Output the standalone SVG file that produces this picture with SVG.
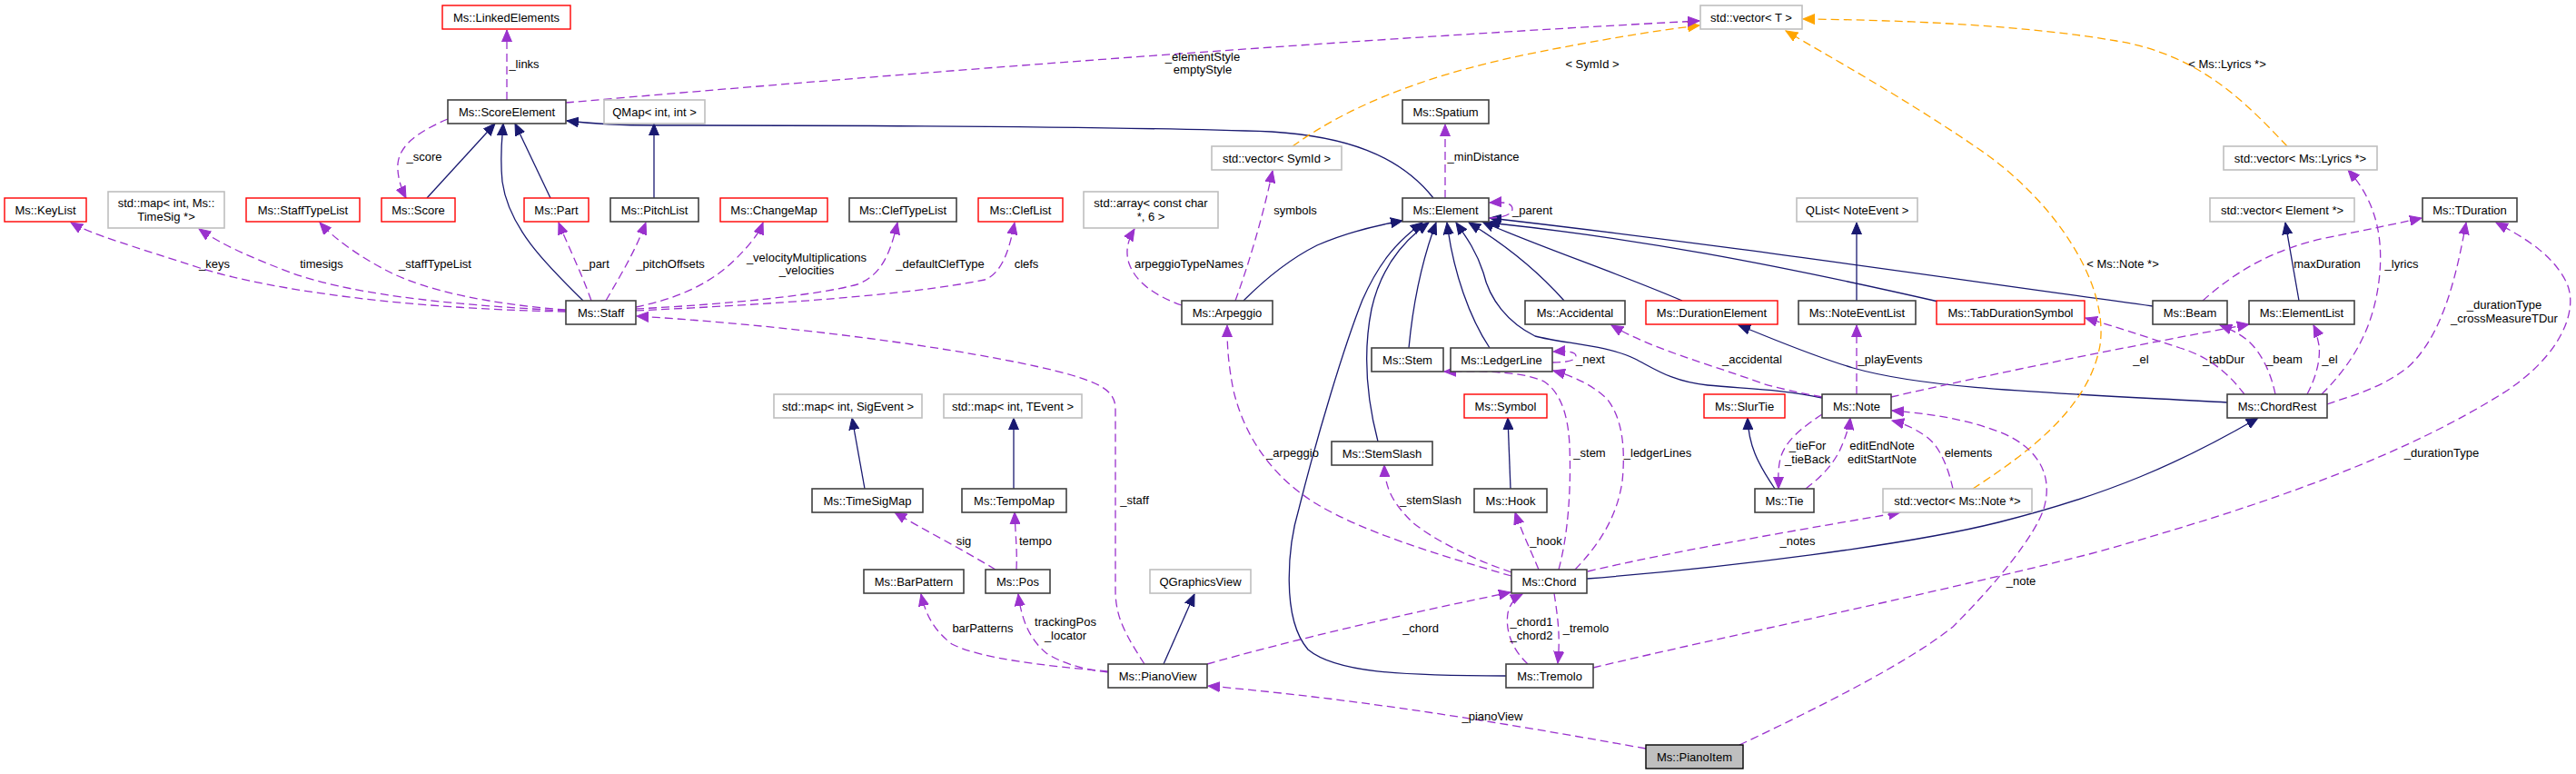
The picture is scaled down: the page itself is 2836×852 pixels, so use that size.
<svg xmlns="http://www.w3.org/2000/svg" width="2836" height="852" viewBox="0 0 2836 852">
<style>
text{font-family:"Liberation Sans",Arial,sans-serif;font-size:13px;fill:#000}
.nt{text-anchor:middle}
.el{text-anchor:middle}
rect.k{fill:#fff;stroke:#404040;stroke-width:1.6}
rect.r{fill:#fff;stroke:#ff0000;stroke-width:1.4}
rect.g{fill:#fff;stroke:#bfbfbf;stroke-width:1.6}
rect.h{fill:#bfbfbf;stroke:#000;stroke-width:1.4}
path.i{fill:none;stroke:#191970;stroke-width:1.3;marker-end:url(#ab)}
path.u{fill:none;stroke:#9a32cd;stroke-width:1.3;stroke-dasharray:9,5;marker-end:url(#ap)}
path.t{fill:none;stroke:#ffa500;stroke-width:1.3;stroke-dasharray:9,5;marker-end:url(#ao)}
</style>
<defs>
<marker id="ab" markerUnits="userSpaceOnUse" markerWidth="14" markerHeight="12" refX="13" refY="6" orient="auto" viewBox="0 0 14 12"><path d="M0,0.5 L13,6 L0,11.5 z" fill="#191970" stroke="#191970" stroke-width="1"/></marker>
<marker id="ap" markerUnits="userSpaceOnUse" markerWidth="14" markerHeight="12" refX="13" refY="6" orient="auto" viewBox="0 0 14 12"><path d="M0,0.5 L13,6 L0,11.5 z" fill="#9a32cd" stroke="#9a32cd" stroke-width="1"/></marker>
<marker id="ao" markerUnits="userSpaceOnUse" markerWidth="14" markerHeight="12" refX="13" refY="6" orient="auto" viewBox="0 0 14 12"><path d="M0,0.5 L13,6 L0,11.5 z" fill="#ffa500" stroke="#ffa500" stroke-width="1"/></marker>
</defs>
<rect width="2836" height="852" fill="#fff"/>

<g id="connectors">
<!-- inheritance -->
<path class="i" d="M470,218 L545,136"/>
<path class="i" d="M642,331 C600,290 560,250 553,200 C550,170 553,150 554,136"/>
<path class="i" d="M606,218 L567,136"/>
<path class="i" d="M1578,218 C1540,170 1480,150 1400,145 C1200,138 800,138 720,138 C680,138 650,136 624,133"/>
<path class="i" d="M720,218 L720,136"/>
<path class="i" d="M1369,331 C1395,305 1420,285 1450,270 C1480,257 1510,249 1544,243"/>
<path class="i" d="M1658,744 C1540,744 1470,740 1440,715 C1410,680 1418,600 1430,560 C1450,480 1480,380 1500,330 C1520,285 1540,265 1566,245"/>
<path class="i" d="M1517,486 C1505,440 1500,390 1510,340 C1520,295 1545,265 1573,245"/>
<path class="i" d="M1551,383 C1556,330 1568,280 1581,245"/>
<path class="i" d="M1640,383 C1618,350 1600,300 1593,245"/>
<path class="i" d="M2006,438 C1960,428 1920,428 1880,424 C1840,420 1820,405 1800,395 C1770,380 1720,378 1690,370 C1660,355 1640,330 1633,300 C1625,275 1612,258 1603,245"/>
<path class="i" d="M1722,331 C1690,295 1650,265 1617,245"/>
<path class="i" d="M1852,331 C1780,300 1690,270 1632,244"/>
<path class="i" d="M2370,337 C2100,300 1900,270 1640,240"/>
<path class="i" d="M2134,332 C1950,290 1800,262 1638,245"/>
<path class="i" d="M1663,538 L1660,460"/>
<path class="i" d="M1954,538 C1935,510 1925,490 1924,460"/>
<path class="i" d="M2452,443 C2250,432 2120,428 2040,405 C1990,390 1950,372 1914,358"/>
<path class="i" d="M1747,637 C1900,625 2100,600 2200,575 C2320,545 2400,510 2486,460"/>
<path class="i" d="M2531,331 L2516,245"/>
<path class="i" d="M2044,331 L2044,245"/>
<path class="i" d="M952,538 L938,460"/>
<path class="i" d="M1116,538 L1116,460"/>
<path class="i" d="M1281,731 L1315,654"/>
<!-- template instances -->
<path class="t" d="M1423,161 C1480,120 1560,85 1680,60 C1760,44 1820,34 1871,28"/>
<path class="t" d="M2518,161 C2470,110 2420,60 2330,45 C2230,28 2100,22 1985,21"/>
<path class="t" d="M2172,538 C2230,500 2300,450 2312,380 C2322,310 2260,220 2180,165 C2100,110 2010,60 1966,34"/>
<!-- usage -->
<path class="u" d="M558,110 L558,33"/>
<path class="u" d="M493,131 C460,145 440,160 438,180 C437,195 442,208 447,218"/>
<path class="u" d="M623,113 C1000,80 1500,42 1871,23"/>
<path class="u" d="M623,343 C450,340 300,320 220,295 C150,272 100,258 78,245"/>
<path class="u" d="M623,342 C480,335 380,322 320,300 C280,285 245,270 219,252"/>
<path class="u" d="M623,341 C540,335 470,320 430,300 C400,285 370,265 352,245"/>
<path class="u" d="M651,331 C640,300 625,270 615,245"/>
<path class="u" d="M667,331 C685,300 700,275 711,245"/>
<path class="u" d="M700,338 C740,330 780,315 810,285 C825,270 835,258 840,245"/>
<path class="u" d="M700,340 C800,335 900,325 944,313 C970,303 980,280 988,245"/>
<path class="u" d="M700,342 C850,335 1000,325 1084,308 C1105,300 1112,270 1117,245"/>
<path class="u" d="M1260,731 C1240,700 1228,680 1228,650 L1228,450 C1228,430 1210,422 1180,413 C1100,390 900,360 701,348"/>
<path class="u" d="M1301,336 C1270,325 1250,310 1243,290 C1238,275 1243,262 1249,252"/>
<path class="u" d="M1360,331 C1375,290 1390,240 1401,188"/>
<path class="u" d="M1664,634 C1580,610 1500,585 1450,555 C1400,525 1370,480 1358,430 C1352,400 1351,380 1351,358"/>
<path class="u" d="M1591,218 L1591,137"/>
<path class="u" d="M1639,240 C1655,240 1665,236 1665,230 C1665,224 1658,222 1640,223"/>
<path class="u" d="M2006,437 C1980,432 1960,428 1940,422 C1880,400 1820,385 1774,358"/>
<path class="u" d="M2044,434 L2044,358"/>
<path class="u" d="M1709,399 C1728,399 1735,396 1735,392 C1735,388 1728,386 1710,387"/>
<path class="u" d="M1734,627 C1760,600 1780,570 1786,530 C1790,490 1785,460 1770,440 C1755,425 1735,415 1710,408"/>
<path class="u" d="M1716,627 C1726,590 1730,540 1728,490 C1726,450 1715,430 1700,420 C1680,410 1640,408 1590,409"/>
<path class="u" d="M1664,630 C1620,615 1580,595 1555,575 C1535,555 1525,540 1524,512"/>
<path class="u" d="M1694,627 C1685,605 1675,585 1668,564"/>
<path class="u" d="M1748,629 C1850,605 2000,580 2092,564"/>
<path class="u" d="M1329,731 C1420,705 1550,675 1663,652"/>
<path class="u" d="M1682,731 C1665,715 1657,695 1660,675 C1662,665 1668,658 1676,654"/>
<path class="u" d="M1711,653 C1715,680 1718,700 1715,730"/>
<path class="u" d="M1812,824 C1650,795 1500,770 1330,755"/>
<path class="u" d="M1915,820 C2000,780 2100,730 2150,690 C2200,640 2240,590 2250,560 C2262,520 2240,490 2200,475 C2160,460 2120,455 2083,452"/>
<path class="u" d="M2150,538 C2145,515 2135,490 2120,480 C2105,470 2095,466 2083,463"/>
<path class="u" d="M2006,456 C1985,470 1965,485 1960,505 C1957,518 1958,528 1958,538"/>
<path class="u" d="M1988,538 C2005,525 2020,510 2028,490 C2033,478 2036,468 2037,460"/>
<path class="u" d="M2082,437 C2200,410 2350,380 2476,357"/>
<path class="u" d="M2471,434 C2460,420 2440,395 2400,383 C2360,370 2330,360 2296,350"/>
<path class="u" d="M2505,434 C2500,410 2490,390 2478,378 C2468,368 2455,362 2444,358"/>
<path class="u" d="M2540,434 C2550,415 2555,395 2553,380 C2551,370 2549,362 2547,358"/>
<path class="u" d="M2556,434 C2590,400 2615,360 2620,300 C2624,250 2610,215 2585,187"/>
<path class="u" d="M2562,445 C2590,435 2620,428 2650,405 C2690,370 2705,300 2715,245"/>
<path class="u" d="M1754,735 C1900,700 2100,660 2300,610 C2500,555 2650,500 2760,430 C2820,390 2840,340 2825,310 C2810,280 2780,262 2748,245"/>
<path class="u" d="M2425,331 C2460,300 2500,275 2560,262 C2600,254 2630,248 2666,240"/>
<path class="u" d="M1220,739 C1150,733 1080,725 1048,709 C1030,695 1020,680 1014,654"/>
<path class="u" d="M1220,740 C1190,737 1165,728 1152,719 C1135,705 1125,685 1121,654"/>
<path class="u" d="M1096,627 C1060,605 1020,585 985,564"/>
<path class="u" d="M1119,627 C1120,605 1118,590 1117,564"/>
<!-- edge labels -->
<text class="el" x="577" y="75">_links</text>
<text class="el" x="1324" y="67">_elementStyle</text>
<text class="el" x="1324" y="81">emptyStyle</text>
<text class="el" x="1753" y="75">&lt; SymId &gt;</text>
<text class="el" x="2452" y="75">&lt; Ms::Lyrics *&gt;</text>
<text class="el" x="467" y="177">_score</text>
<text class="el" x="1633" y="177">_minDistance</text>
<text class="el" x="1426" y="236">symbols</text>
<text class="el" x="1687" y="236">_parent</text>
<text class="el" x="236" y="295">_keys</text>
<text class="el" x="354" y="295">timesigs</text>
<text class="el" x="479" y="295">_staffTypeList</text>
<text class="el" x="656" y="295">_part</text>
<text class="el" x="738" y="295">_pitchOffsets</text>
<text class="el" x="888" y="288">_velocityMultiplications</text>
<text class="el" x="888" y="302">_velocities</text>
<text class="el" x="1035" y="295">_defaultClefType</text>
<text class="el" x="1130" y="295">clefs</text>
<text class="el" x="1309" y="295">arpeggioTypeNames</text>
<text class="el" x="2337" y="295">&lt; Ms::Note *&gt;</text>
<text class="el" x="2562" y="295">maxDuration</text>
<text class="el" x="2644" y="295">_lyrics</text>
<text class="el" x="2757" y="340">_durationType</text>
<text class="el" x="2757" y="355">_crossMeasureTDur</text>
<text class="el" x="1751" y="400">_next</text>
<text class="el" x="1929" y="400">_accidental</text>
<text class="el" x="2081" y="400">_playEvents</text>
<text class="el" x="2357" y="400">_el</text>
<text class="el" x="2448" y="400">_tabDur</text>
<text class="el" x="2515" y="400">_beam</text>
<text class="el" x="2565" y="400">_el</text>
<text class="el" x="1423" y="503">_arpeggio</text>
<text class="el" x="1750" y="503">_stem</text>
<text class="el" x="1825" y="503">_ledgerLines</text>
<text class="el" x="1990" y="495">_tieFor</text>
<text class="el" x="1990" y="510">_tieBack</text>
<text class="el" x="2072" y="495">editEndNote</text>
<text class="el" x="2072" y="510">editStartNote</text>
<text class="el" x="2167" y="503">elements</text>
<text class="el" x="2688" y="503">_durationType</text>
<text class="el" x="1249" y="555">_staff</text>
<text class="el" x="1575" y="555">_stemSlash</text>
<text class="el" x="1061" y="600">sig</text>
<text class="el" x="1140" y="600">tempo</text>
<text class="el" x="1702" y="600">_hook</text>
<text class="el" x="1979" y="600">_notes</text>
<text class="el" x="2225" y="644">_note</text>
<text class="el" x="1082" y="696">barPatterns</text>
<text class="el" x="1173" y="689">trackingPos</text>
<text class="el" x="1173" y="704">_locator</text>
<text class="el" x="1564" y="696">_chord</text>
<text class="el" x="1686" y="689">_chord1</text>
<text class="el" x="1686" y="704">_chord2</text>
<text class="el" x="1746" y="696">_tremolo</text>
<text class="el" x="1643" y="793">_pianoView</text>
</g>

<g id="n-LinkedElements"><rect class="r" x="487" y="6" width="141" height="26"/><text class="nt" x="557.5" y="24">Ms::LinkedElements</text></g>
<g id="n-ScoreElement"><rect class="k" x="493" y="110" width="130" height="26"/><text class="nt" x="558" y="128">Ms::ScoreElement</text></g>
<g id="n-QMap"><rect class="g" x="665" y="110" width="111" height="26"/><text class="nt" x="720.5" y="128">QMap&lt; int, int &gt;</text></g>
<g id="n-vectorT"><rect class="g" x="1872" y="6" width="112" height="26"/><text class="nt" x="1928" y="24">std::vector&lt; T &gt;</text></g>
<g id="n-Spatium"><rect class="k" x="1544" y="110" width="95" height="26"/><text class="nt" x="1591.5" y="128">Ms::Spatium</text></g>
<g id="n-vectorSymId"><rect class="g" x="1334" y="161" width="143" height="26"/><text class="nt" x="1405.5" y="179">std::vector&lt; SymId &gt;</text></g>
<g id="n-vectorLyrics"><rect class="g" x="2448" y="161" width="169" height="26"/><text class="nt" x="2532.5" y="179">std::vector&lt; Ms::Lyrics *&gt;</text></g>
<g id="n-KeyList"><rect class="r" x="5" y="218" width="90" height="26"/><text class="nt" x="50" y="236">Ms::KeyList</text></g>
<g id="n-mapTimeSig"><rect class="g" x="119" y="211" width="128" height="40"/><text class="nt" x="183" y="228">std::map&lt; int, Ms::</text><text class="nt" x="183" y="243">TimeSig *&gt;</text></g>
<g id="n-StaffTypeList"><rect class="r" x="271" y="218" width="125" height="26"/><text class="nt" x="333.5" y="236">Ms::StaffTypeList</text></g>
<g id="n-Score"><rect class="r" x="420" y="218" width="81" height="26"/><text class="nt" x="460.5" y="236">Ms::Score</text></g>
<g id="n-Part"><rect class="r" x="577" y="218" width="71" height="26"/><text class="nt" x="612.5" y="236">Ms::Part</text></g>
<g id="n-PitchList"><rect class="k" x="672" y="218" width="97" height="26"/><text class="nt" x="720.5" y="236">Ms::PitchList</text></g>
<g id="n-ChangeMap"><rect class="r" x="793" y="218" width="118" height="26"/><text class="nt" x="852" y="236">Ms::ChangeMap</text></g>
<g id="n-ClefTypeList"><rect class="k" x="935" y="218" width="118" height="26"/><text class="nt" x="994" y="236">Ms::ClefTypeList</text></g>
<g id="n-ClefList"><rect class="r" x="1077" y="218" width="93" height="26"/><text class="nt" x="1123.5" y="236">Ms::ClefList</text></g>
<g id="n-array"><rect class="g" x="1193" y="211" width="148" height="40"/><text class="nt" x="1267" y="228">std::array&lt; const char</text><text class="nt" x="1267" y="243">*, 6 &gt;</text></g>
<g id="n-Element"><rect class="k" x="1544" y="218" width="95" height="26"/><text class="nt" x="1591.5" y="236">Ms::Element</text></g>
<g id="n-QList"><rect class="g" x="1978" y="218" width="133" height="26"/><text class="nt" x="2044.5" y="236">QList&lt; NoteEvent &gt;</text></g>
<g id="n-vectorElement"><rect class="g" x="2433" y="218" width="159" height="26"/><text class="nt" x="2512.5" y="236">std::vector&lt; Element *&gt;</text></g>
<g id="n-TDuration"><rect class="k" x="2667" y="218" width="104" height="26"/><text class="nt" x="2719" y="236">Ms::TDuration</text></g>
<g id="n-Staff"><rect class="k" x="623" y="331" width="77" height="26"/><text class="nt" x="661.5" y="349">Ms::Staff</text></g>
<g id="n-Arpeggio"><rect class="k" x="1301" y="331" width="100" height="26"/><text class="nt" x="1351" y="349">Ms::Arpeggio</text></g>
<g id="n-Accidental"><rect class="k" x="1679" y="331" width="110" height="26"/><text class="nt" x="1734" y="349">Ms::Accidental</text></g>
<g id="n-DurationElement"><rect class="r" x="1812" y="331" width="145" height="26"/><text class="nt" x="1884.5" y="349">Ms::DurationElement</text></g>
<g id="n-NoteEventList"><rect class="k" x="1980" y="331" width="129" height="26"/><text class="nt" x="2044.5" y="349">Ms::NoteEventList</text></g>
<g id="n-TabDurationSymbol"><rect class="r" x="2132" y="331" width="163" height="26"/><text class="nt" x="2213.5" y="349">Ms::TabDurationSymbol</text></g>
<g id="n-Beam"><rect class="k" x="2370" y="331" width="82" height="26"/><text class="nt" x="2411" y="349">Ms::Beam</text></g>
<g id="n-ElementList"><rect class="k" x="2476" y="331" width="116" height="26"/><text class="nt" x="2534" y="349">Ms::ElementList</text></g>
<g id="n-Stem"><rect class="k" x="1510" y="383" width="79" height="26"/><text class="nt" x="1549.5" y="401">Ms::Stem</text></g>
<g id="n-LedgerLine"><rect class="k" x="1597" y="383" width="112" height="26"/><text class="nt" x="1653" y="401">Ms::LedgerLine</text></g>
<g id="n-mapSigEvent"><rect class="g" x="852" y="434" width="163" height="26"/><text class="nt" x="933.5" y="452">std::map&lt; int, SigEvent &gt;</text></g>
<g id="n-mapTEvent"><rect class="g" x="1039" y="434" width="152" height="26"/><text class="nt" x="1115" y="452">std::map&lt; int, TEvent &gt;</text></g>
<g id="n-Symbol"><rect class="r" x="1612" y="434" width="91" height="26"/><text class="nt" x="1657.5" y="452">Ms::Symbol</text></g>
<g id="n-SlurTie"><rect class="r" x="1876" y="434" width="89" height="26"/><text class="nt" x="1920.5" y="452">Ms::SlurTie</text></g>
<g id="n-Note"><rect class="k" x="2006" y="434" width="76" height="26"/><text class="nt" x="2044" y="452">Ms::Note</text></g>
<g id="n-ChordRest"><rect class="k" x="2452" y="434" width="110" height="26"/><text class="nt" x="2507" y="452">Ms::ChordRest</text></g>
<g id="n-StemSlash"><rect class="k" x="1466" y="486" width="111" height="26"/><text class="nt" x="1521.5" y="504">Ms::StemSlash</text></g>
<g id="n-TimeSigMap"><rect class="k" x="894" y="538" width="122" height="26"/><text class="nt" x="955" y="556">Ms::TimeSigMap</text></g>
<g id="n-TempoMap"><rect class="k" x="1059" y="538" width="115" height="26"/><text class="nt" x="1116.5" y="556">Ms::TempoMap</text></g>
<g id="n-Hook"><rect class="k" x="1623" y="538" width="80" height="26"/><text class="nt" x="1663" y="556">Ms::Hook</text></g>
<g id="n-Tie"><rect class="k" x="1932" y="538" width="65" height="26"/><text class="nt" x="1964.5" y="556">Ms::Tie</text></g>
<g id="n-vectorNote"><rect class="g" x="2073" y="538" width="164" height="26"/><text class="nt" x="2155" y="556">std::vector&lt; Ms::Note *&gt;</text></g>
<g id="n-BarPattern"><rect class="k" x="951" y="627" width="110" height="26"/><text class="nt" x="1006" y="645">Ms::BarPattern</text></g>
<g id="n-Pos"><rect class="k" x="1085" y="627" width="71" height="26"/><text class="nt" x="1120.5" y="645">Ms::Pos</text></g>
<g id="n-QGraphicsView"><rect class="g" x="1266" y="627" width="111" height="26"/><text class="nt" x="1321.5" y="645">QGraphicsView</text></g>
<g id="n-Chord"><rect class="k" x="1664" y="627" width="83" height="26"/><text class="nt" x="1705.5" y="645">Ms::Chord</text></g>
<g id="n-PianoView"><rect class="k" x="1220" y="731" width="109" height="26"/><text class="nt" x="1274.5" y="749">Ms::PianoView</text></g>
<g id="n-Tremolo"><rect class="k" x="1658" y="731" width="96" height="26"/><text class="nt" x="1706" y="749">Ms::Tremolo</text></g>
<g id="n-PianoItem"><rect class="h" x="1812" y="820" width="107" height="26"/><text class="nt" x="1865.5" y="838">Ms::PianoItem</text></g>
</svg>
